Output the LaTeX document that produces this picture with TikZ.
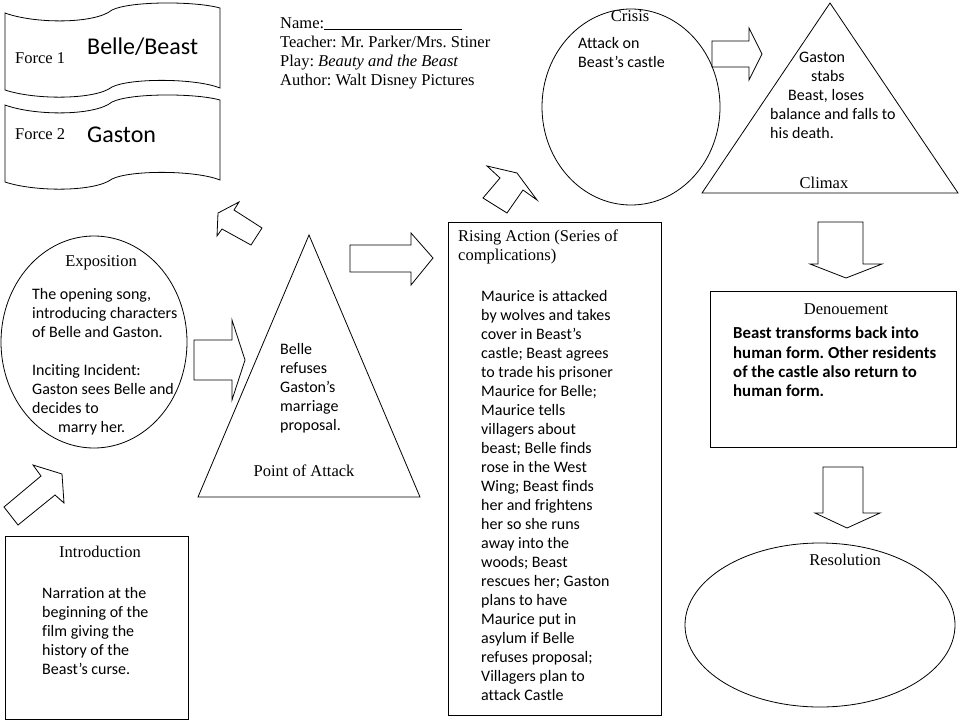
\documentclass[tikz,border=0pt]{standalone}
\usepackage{fontspec}
\setmainfont{Carlito}[Ligatures={TeX,NoCommon}]
\newfontfamily\camfont{Liberation Serif}
\frenchspacing
\usetikzlibrary{positioning}

\begin{document}
\begin{tikzpicture}[x=1pt,y=-1pt]
  \tikzstyle{lbl}=[font=\camfont\fontsize{16.5}{19}\selectfont,inner sep=0pt]
  \tikzstyle{txt}=[font=\fontsize{16}{19}\selectfont,align=left,inner sep=0pt,anchor=north west]
  \tikzstyle{big}=[font=\fontsize{24}{28}\selectfont,inner sep=0pt,anchor=west]
  \tikzstyle{blk}=[draw,line width=0.8pt,line join=miter]
  \useasboundingbox (0,0) rectangle (960,720);

  % the two force banners
  \foreach \dy in {0,92} {
    \draw[blk,shift={(0,\dy)}] (5,13) .. controls (35,24) and (95,24) .. (112,10)
      .. controls (130,1) and (195,1) .. (220,8) -- (220,88)
      .. controls (195,78) and (130,78) .. (112,87)
      .. controls (95,100) and (35,100) .. (5,90) -- cycle;
  }
  \node[lbl,anchor=west] (force1) at (15,58) {Force 1};
  \node[big] (bb) at (87,47) {Belle/Beast};
  \node[lbl,anchor=west] (force2) at (15,134) {Force 2};
  \node[big] (gst) at (87,135) {Gaston};

  % heading
  \node[lbl,align=left,anchor=north west] (head) at (280,17)
    {Name:\rule[-1.5pt]{138pt}{0.6pt}\\Teacher: Mr. Parker/Mrs. Stiner\\
     Play: \textit{Beauty and the Beast}\\Author: Walt Disney Pictures};

  % crisis and climax
  \draw[blk] (631,107) ellipse [x radius=89pt, y radius=98pt];
  \node[lbl] (crisis) at (630,16) {Crisis};
  \node[txt] (crisistxt) at (578,37) {Attack on\\Beast’s castle};
  \draw[blk] (830,3) -- (958,193) -- (702,193) -- cycle;
  \node[txt] (climaxtxt) at (770,52) {\hspace{29pt}Gaston\\\hspace{41pt}stabs\\
    \hspace{18pt}Beast, loses\\balance and falls to\\his death.};
  \node[lbl] (climax) at (824,183) {Climax};

  % exposition and point of attack
  \draw[blk] (94,342) ellipse [x radius=93pt, y radius=106pt];
  \node[lbl] (expo) at (101,263) {Exposition};
  \node[txt] (expotxt) at (32,288) {The opening song,\\introducing characters\\
    of Belle and Gaston.\\[19pt]Inciting Incident:\\Gaston sees Belle and\\
    decides to\\\hspace{26pt}marry her.};
  \draw[blk] (309,235) -- (420,497) -- (198,497) -- cycle;
  \node[txt] (poatxt) at (280,343) {Belle\\refuses\\Gaston’s\\marriage\\proposal.};
  \node[lbl] (poa) at (304,471) {Point of Attack};

  % introduction
  \draw[blk] (5,536) rectangle (188,719);
  \node[lbl] (intro) at (100,552) {Introduction};
  \node[txt] (introtxt) at (42,587) {Narration at the\\beginning of the\\
    film giving the\\history of the\\Beast’s curse.};

  % rising action
  \draw[blk] (448,222) rectangle (661,715);
  \node[lbl,align=left,anchor=north west] (rising) at (458,230)
    {Rising Action (Series of\\complications)};
  \node[txt] (risingtxt) at (481,290) {Maurice is attacked\\by wolves and takes\\
    cover in Beast’s\\castle; Beast agrees\\to trade his prisoner\\
    Maurice for Belle;\\Maurice tells\\villagers about\\beast; Belle finds\\
    rose in the West\\Wing; Beast finds\\her and frightens\\her so she runs\\
    away into the\\woods; Beast\\rescues her; Gaston\\plans to have\\
    Maurice put in\\asylum if Belle\\refuses proposal;\\Villagers plan to\\
    attack Castle};

  % denouement and resolution
  \draw[blk] (710,291) rectangle (956,447);
  \node[lbl] (denoue) at (846,309) {Denouement};
  \node[txt,font=\bfseries\fontsize{16.8}{19.3}\selectfont] (denouetxt) at (733,327)
    {Beast transforms back into\\human form. Other residents\\
     of the castle also return to\\human form.};
  \draw[blk] (820,625) ellipse [x radius=135pt, y radius=82pt];
  \node[lbl] (resol) at (845,560) {Resolution};

  % block arrows
  \draw[blk] (33,465) -- (62,474) -- (64,503) -- (55,495) -- (18,525) -- (4,507) -- (41,476) -- cycle;
  \draw[blk] (194,340) -- (232,340) -- (232,320) -- (245,360) -- (232,400) -- (232,380) -- (194,380) -- cycle;
  \draw[blk] (239,202) -- (218,213) -- (217,236) -- (222,229) -- (251,245) -- (262,228) -- (234,210) -- cycle;
  \draw[blk] (350,245) -- (411,245) -- (411,233) -- (433,258) -- (411,285) -- (411,272) -- (350,272) -- cycle;
  \draw[blk] (487,166) -- (517,173) -- (537,200) -- (523,190) -- (507,213) -- (483,198) -- (500,178) -- cycle;
  \draw[blk] (712,41) -- (749,41) -- (749,28) -- (762,54) -- (749,80) -- (749,67) -- (712,67) -- cycle;
  \draw[blk] (818,222) -- (863,222) -- (863,264) -- (882,264) -- (846,278) -- (810,264) -- (818,264) -- cycle;
  \draw[blk] (823,467) -- (863,467) -- (863,513) -- (880,513) -- (847,528) -- (815,513) -- (823,513) -- cycle;
\end{tikzpicture}
\end{document}
